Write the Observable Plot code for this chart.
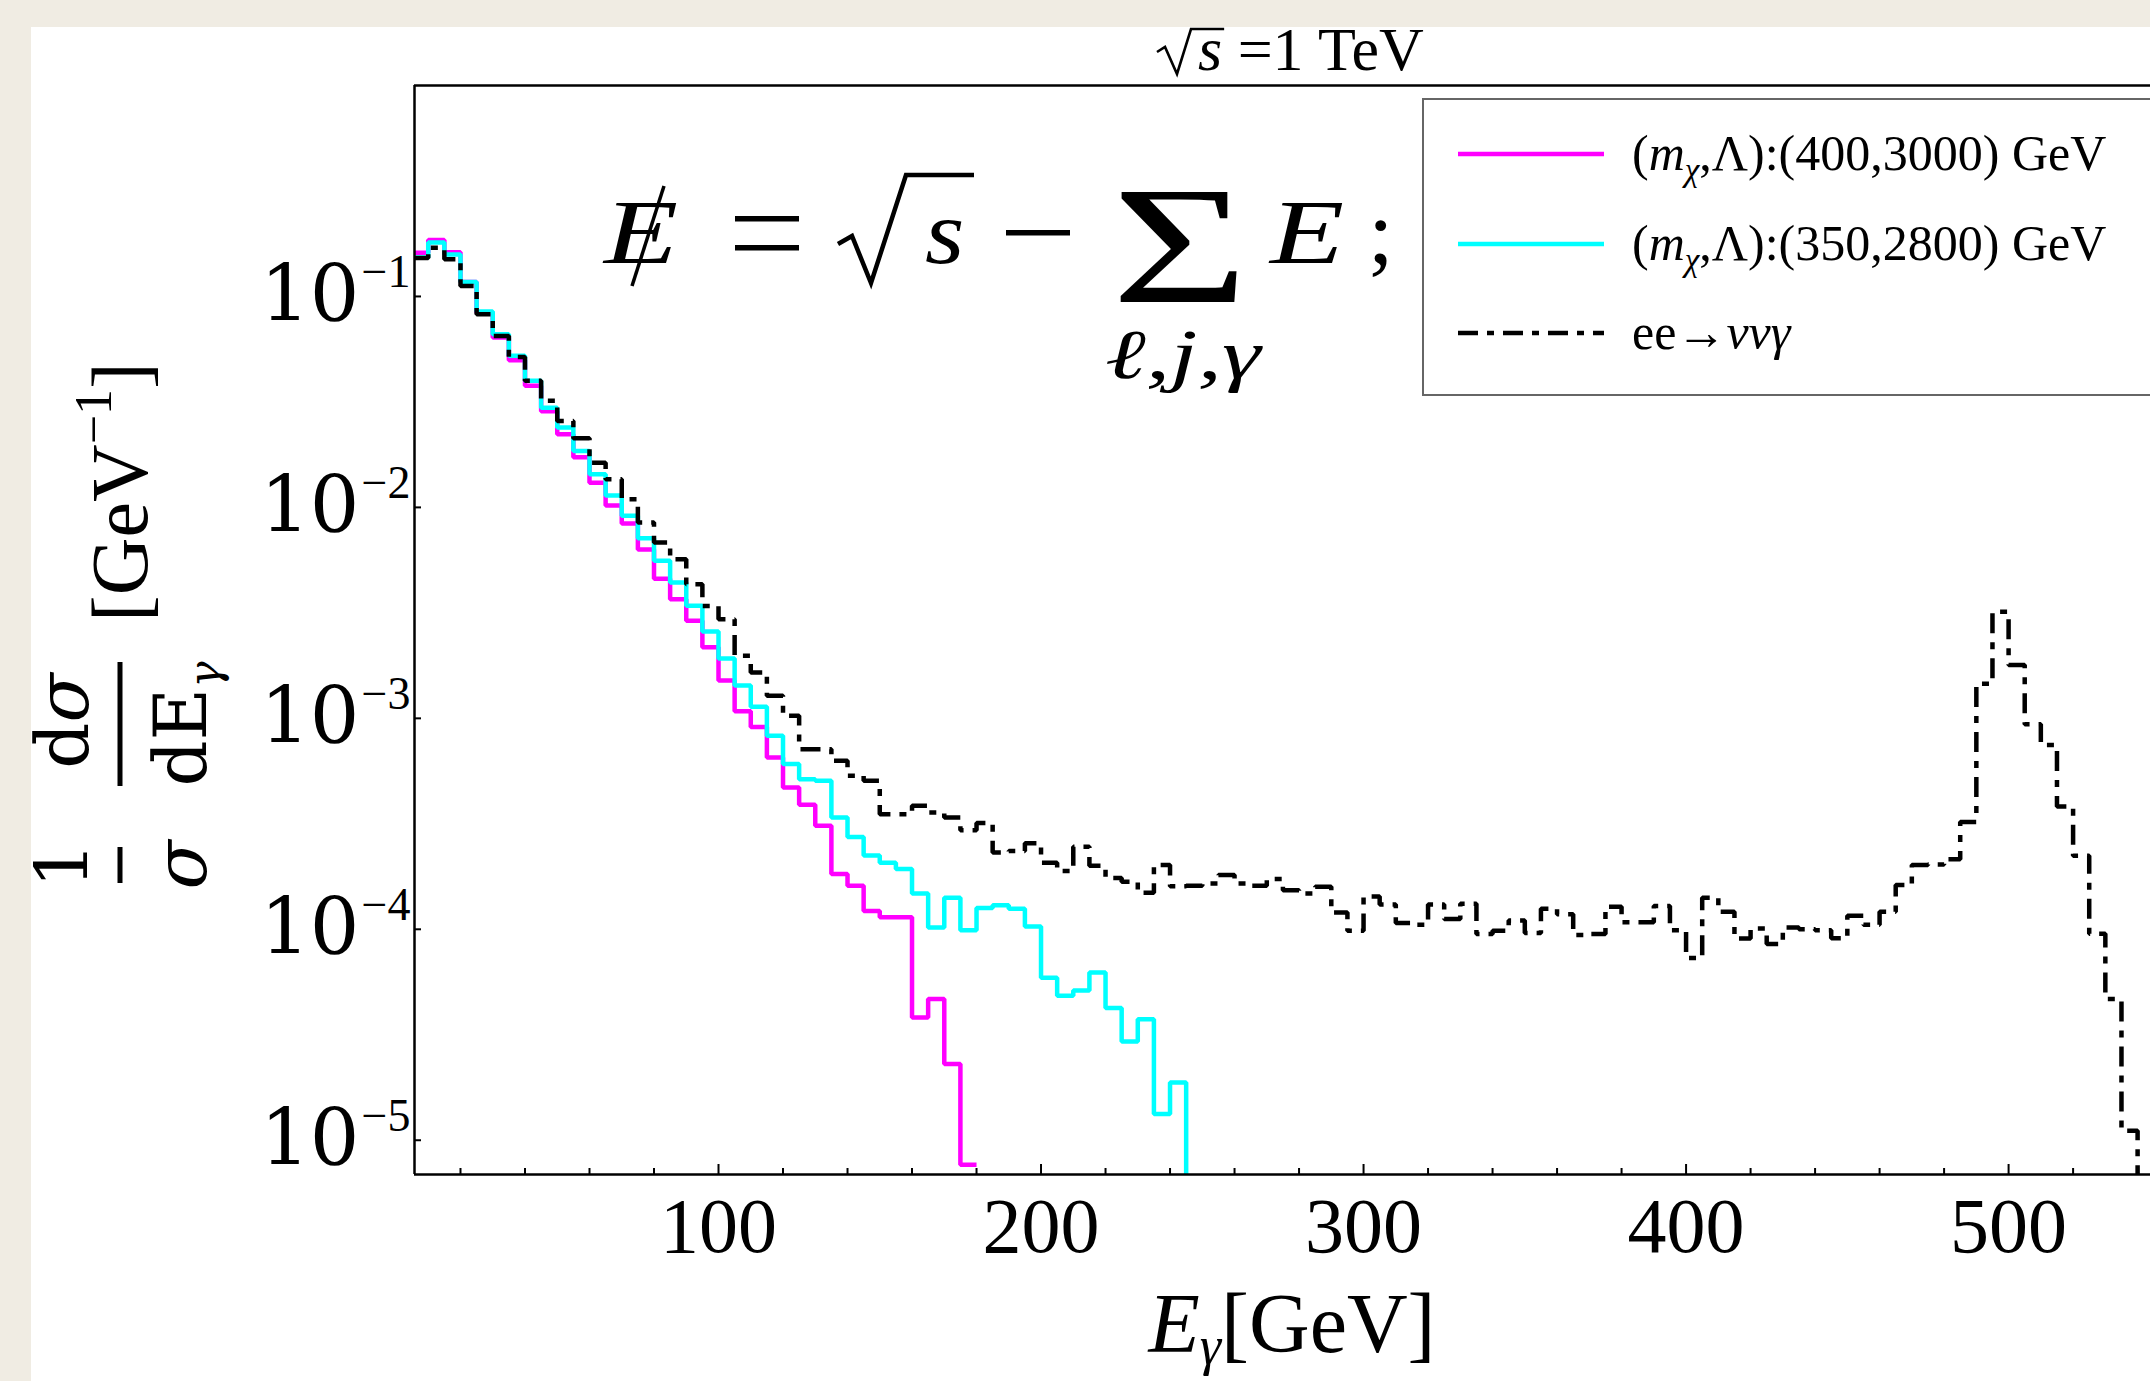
<!DOCTYPE html>
<html>
<head>
<meta charset="utf-8">
<script src="https://cdn.jsdelivr.net/npm/d3@7"></script>
<script src="https://cdn.jsdelivr.net/npm/@observablehq/plot@0.6"></script>
<style>
html,body{margin:0;padding:0;background:#f0ece3;}
#chart{position:relative;width:2150px;height:1381px;overflow:hidden;background:#f0ece3;}
#chart svg{display:block;}
</style>
</head>
<body>
<div id="chart"></div>
<script>
// ---------- DATA ----------
// histogram bin edges in GeV (5 GeV bins)
const binEdges = [5,10,15,20,25,30,35,40,45,50,55,60,65,70,75,80,85,90,95,100,
  105,110,115,120,125,130,135,140,145,150,155,160,165,170,175,180,185,190,195,200,
  205,210,215,220,225,230,235,240,245,250,255,260,265,270,275,280,285,290,295,300,
  305,310,315,320,325,330,335,340,345,350,355,360,365,370,375,380,385,390,395,400,
  405,410,415,420,425,430,435,440,445,450,455,460,465,470,475,480,485,490,495,500,
  505,510,515,520,525,530,535,540,545];

// (m_chi, Lambda) = (400, 3000) GeV  -- magenta
const magentaValues = [0.161,0.185,0.162,0.117,0.0838,0.0638,0.0499,0.0377,0.0286,0.0222,
  0.0173,0.0131,0.0102,0.00838,0.00632,0.00459,0.00367,0.0029,0.00217,0.00151,
  0.00108,0.000911,0.000652,0.00047,0.000389,0.00031,0.000183,0.000161,0.000122,0.000114,
  0.000114,0.0000382,0.0000467,0.000023,0.00000765];

// (m_chi, Lambda) = (350, 2800) GeV  -- cyan
const cyanValues = [0.153,0.180,0.158,0.117,0.0848,0.0662,0.0523,0.0398,0.0297,0.0239,
  0.0185,0.01436,0.0114,0.00912,0.00715,0.00558,0.0044,0.00342,0.00258,0.00192,
  0.00143,0.001135,0.000827,0.000607,0.000515,0.000506,0.000339,0.000274,0.000224,0.000207,
  0.000193,0.000148,0.000102,0.000141,0.000099,0.000126,0.00013,0.000125,0.000103,0.000059,
  0.0000484,0.0000512,0.0000624,0.0000423,0.0000294,0.0000375,0.0000133,0.0000188];

// ee -> nu nu gamma background -- black dot-dashed
const bgValues = [0.152,0.17,0.150,0.112,0.0824,0.065,0.0517,0.0398,0.032,0.0257,
  0.0213,0.0163,0.0136,0.01094,0.00848,0.00681,0.00568,0.00432,0.00341,0.00295,
  0.00198,0.00165,0.00128,0.00103,0.000714,0.000714,0.00063,0.000534,0.000506,0.000351,
  0.000351,0.000385,0.000358,0.000339,0.000295,0.000319,0.000231,0.000235,0.000256,0.000207,
  0.000189,0.000246,0.0002,0.000175,0.000168,0.000149,0.000202,0.00016,0.000161,0.000165,
  0.000181,0.000165,0.000161,0.000173,0.000153,0.000148,0.000159,0.00012,0.0000984,0.000143,
  0.000131,0.000107,0.000105,0.000131,0.000112,0.000132,0.000095,0.0000984,0.00011,0.000096,
  0.000125,0.000118,0.000094,0.000095,0.000128,0.000108,0.000108,0.000129,0.000099,0.000073,
  0.000141,0.000121,0.0000904,0.000101,0.0000851,0.000102,0.0001,0.000099,0.0000907,0.000116,
  0.000105,0.000121,0.000162,0.000202,0.000203,0.000215,0.000323,0.00146,0.0032,0.00179,
  0.000937,0.000748,0.000382,0.000223,0.0000953,0.0000467,0.0000111];

const seriesLabels = ["(400,3000) GeV", "(350,2800) GeV", "ee→"];
const xTickValues = [100,200,300,400,500];
const xMinorTickValues = [20,40,60,80,120,140,160,180,220,240,260,280,320,340,360,380,420,440,460,480,520,540];
const yTickValues = [1e-5,1e-4,1e-3,1e-2,1e-1];
const yTickExponents = ["−5","−4","−3","−2","−1"];
const xDomain = [5.74, 544];
const yDomain = [6.88e-6, 1];

// ---------- build step series ----------
function stepSeries(values, dropToFloor) {
  const pts = values.map((v, i) => ({x: binEdges[i], y: v}));
  pts.push({x: binEdges[values.length], y: values[values.length - 1]});
  if (dropToFloor) pts.push({x: binEdges[values.length], y: yDomain[0]});
  return pts;
}
const magentaPts = stepSeries(magentaValues, false);
const cyanPts = stepSeries(cyanValues, true);
const bgPts = stepSeries(bgValues, true);

const SERIF = "Liberation Serif";
const MATHF = "DejaVu Serif";

const chart = Plot.plot({
  width: 2150,
  height: 1381,
  marginLeft: 414,
  marginRight: 0,
  marginTop: 85,
  marginBottom: 207,
  style: {background: "transparent", overflow: "visible"},
  x: {domain: xDomain, axis: null},
  y: {type: "log", domain: yDomain, axis: null},
  marks: [
    Plot.line(magentaPts, {x: "x", y: "y", curve: "step-after", stroke: "#ff00ff", strokeWidth: 4.5,
      strokeLinejoin: "miter", strokeLinecap: "butt", clip: true}),
    Plot.line(cyanPts, {x: "x", y: "y", curve: "step-after", stroke: "#00ffff", strokeWidth: 4.5,
      strokeLinejoin: "miter", strokeLinecap: "butt", clip: true}),
    Plot.line(bgPts, {x: "x", y: "y", curve: "step-after", stroke: "black", strokeWidth: 4.5,
      strokeDasharray: "20,9,7,9", strokeLinejoin: "miter", strokeLinecap: "butt", clip: true}),
    // frame (left, bottom, top)
    Plot.ruleX([xDomain[0]], {stroke: "black", strokeWidth: 2.5}),
    Plot.ruleY([yDomain[0]], {stroke: "black", strokeWidth: 2.5}),
    Plot.ruleY([yDomain[1]], {stroke: "black", strokeWidth: 2.5}),
    // x ticks (inward)
    Plot.ruleX(xTickValues, {x: d => d, y1: yDomain[0], y2: yDomain[0], insetTop: -10, stroke: "black", strokeWidth: 2}),
    Plot.ruleX(xMinorTickValues, {x: d => d, y1: yDomain[0], y2: yDomain[0], insetTop: -6, stroke: "black", strokeWidth: 2}),
    // y ticks (inward)
    Plot.ruleY(yTickValues, {y: d => d, x1: xDomain[0], x2: xDomain[0], insetRight: -7, stroke: "black", strokeWidth: 2}),
    // x tick labels
    Plot.text(xTickValues, {x: d => d, frameAnchor: "bottom", dy: 77, text: d => String(d),
      fontSize: 78, fontFamily: SERIF, fill: "black"}),
    // y tick labels 10^n
    Plot.text(yTickValues, {y: d => d, frameAnchor: "left", dx: -55, textAnchor: "end", text: () => "10",
      fontSize: 78, fontFamily: MATHF, fill: "black"}),
    Plot.text(yTickValues, {y: d => d, frameAnchor: "left", dx: -4, dy: -24, textAnchor: "end",
      text: (d, i) => yTickExponents[i], fontSize: 46, fontFamily: SERIF, fill: "black"})
  ]
});

const host = document.getElementById("chart");
host.appendChild(chart);
const svg = d3.select(chart);

// white sheet over the beige paper
svg.insert("rect", ":first-child").attr("x", 31).attr("y", 27).attr("width", 2200).attr("height", 1400).attr("fill", "white");

// helper: horizontally widened glyph text (math italic is wider than Times)
function wideText(g, x, y, size, txt, sx, italic) {
  return g.append("text").attr("x", x).attr("y", y).attr("text-anchor", "start")
    .attr("font-size", size).attr("font-style", italic ? "italic" : "normal")
    .attr("transform", `translate(${x},0) scale(${sx},1) translate(${-x},0)`).text(txt);
}

// ---------- title ----------
const tg = svg.append("g").attr("fill", "black").attr("font-family", SERIF);
const titleText = tg.append("text").attr("x", 1198).attr("y", 70).attr("text-anchor", "start")
  .attr("font-size", 62);
titleText.append("tspan").attr("font-style", "italic").text("s");
titleText.append("tspan").text(" =1 TeV");
const sExt = titleText.node().getExtentOfChar(0);
tg.append("path").attr("d", `M1157,52 L1165,47 L1177,74 L1191,29 L${sExt.x + sExt.width + 2},29`)
  .attr("fill", "none").attr("stroke", "black").attr("stroke-width", 2.6).attr("stroke-linejoin", "miter");

// ---------- x axis label ----------
const xl = svg.append("text").attr("x", 1292).attr("y", 1352).attr("text-anchor", "middle")
  .attr("font-family", SERIF).attr("font-size", 84).attr("fill", "black");
xl.append("tspan").attr("font-style", "italic").text("E");
xl.append("tspan").attr("font-style", "italic").attr("font-size", 54).attr("dy", 12).text("γ");
xl.append("tspan").attr("dy", -12).text("[GeV]");

// ---------- y axis label (rotated) ----------
const yl = svg.append("g").attr("transform", "translate(120,624) rotate(-90)")
  .attr("font-family", MATHF).attr("fill", "black");
yl.append("text").attr("x", -241).attr("y", -32).attr("text-anchor", "middle").attr("font-size", 72).text("1");
yl.append("rect").attr("x", -259).attr("y", -2.5).attr("width", 36).attr("height", 5).attr("fill", "black");
yl.append("text").attr("x", -241).attr("y", 86).attr("text-anchor", "middle").attr("font-size", 72)
  .attr("font-style", "italic").text("σ");
yl.append("text").attr("x", -97).attr("y", -32).attr("text-anchor", "middle").attr("font-size", 72)
  .html('d<tspan font-style="italic">σ</tspan>');
yl.append("rect").attr("x", -162).attr("y", -2.5).attr("width", 124).attr("height", 5).attr("fill", "black");
const dE = yl.append("text").attr("x", -100).attr("y", 86).attr("text-anchor", "middle").attr("font-size", 72);
dE.append("tspan").text("dE");
dE.append("tspan").attr("font-size", 44).attr("dy", 14).attr("font-style", "italic").text("γ");
const gev = yl.append("text").attr("x", 2).attr("y", 27).attr("text-anchor", "start")
  .attr("font-size", 80).attr("font-family", SERIF);
gev.append("tspan").text("[GeV");
gev.append("tspan").attr("font-size", 52).attr("dy", -36).text("−1");
gev.append("tspan").attr("dy", 36).text("]");

// ---------- formula annotation ----------
const fm = svg.append("g").attr("fill", "black").attr("font-family", SERIF);
wideText(fm, 604, 263, 92, "E", 1.32, true);
fm.append("line").attr("x1", 632).attr("y1", 286).attr("x2", 664).attr("y2", 186)
  .attr("stroke", "black").attr("stroke-width", 3.5);
// "=" bars
fm.append("rect").attr("x", 735).attr("y", 216).attr("width", 64).attr("height", 5.5);
fm.append("rect").attr("x", 735).attr("y", 245).attr("width", 64).attr("height", 5.5);
// radical
fm.append("path").attr("d", "M838,244 L852,236 L871,283 L906,175 L974,175")
  .attr("fill", "none").attr("stroke", "black").attr("stroke-width", 4.5).attr("stroke-linejoin", "miter");
wideText(fm, 925, 263, 92, "s", 1.1, true);
// minus
fm.append("rect").attr("x", 1006).attr("y", 230).attr("width", 64).attr("height", 5.5);
// sum sign with its subscript as one text element
const sumText = fm.append("text").attr("text-anchor", "middle")
  .attr("transform", "translate(1180,0) scale(1.4,1) translate(-1180,0)");
sumText.append("tspan").attr("x", 1180).attr("y", 302).attr("font-size", 168).text("Σ");
sumText.append("tspan").attr("x", 1182).attr("y", 378).attr("font-size", 70).attr("font-style", "italic").text("ℓ,j,γ");
wideText(fm, 1270, 263, 92, "E", 1.32, true);
wideText(fm, 1368, 263, 92, ";", 1.0, false);

// ---------- legend ----------
const lg = svg.append("g");
lg.append("rect").attr("x", 1423).attr("y", 99).attr("width", 900).attr("height", 296)
  .attr("fill", "white").attr("stroke", "#666").attr("stroke-width", 2);
const legendItems = [
  {y: 154, color: "#ff00ff", dash: null},
  {y: 244, color: "#00ffff", dash: null},
  {y: 333, color: "black", dash: "20,9,7,9"}
];
legendItems.forEach((it, i) => {
  const l = lg.append("line").attr("x1", 1458).attr("x2", 1604).attr("y1", it.y).attr("y2", it.y)
    .attr("stroke", it.color).attr("stroke-width", 4.5);
  if (it.dash) l.attr("stroke-dasharray", it.dash);
  const t = lg.append("text").attr("x", 1632).attr("y", it.y + 16).attr("text-anchor", "start")
    .attr("font-family", SERIF).attr("font-size", 50).attr("fill", "black");
  if (i < 2) {
    t.append("tspan").text("(");
    t.append("tspan").attr("font-style", "italic").text("m");
    t.append("tspan").attr("font-style", "italic").attr("font-size", 33).attr("dy", 11).text("χ");
    t.append("tspan").attr("dy", -11).text(",Λ):" + seriesLabels[i]);
  } else {
    t.append("tspan").text(seriesLabels[i]);
    t.append("tspan").attr("font-style", "italic").text("ννγ");
  }
});
</script>
</body>
</html>
